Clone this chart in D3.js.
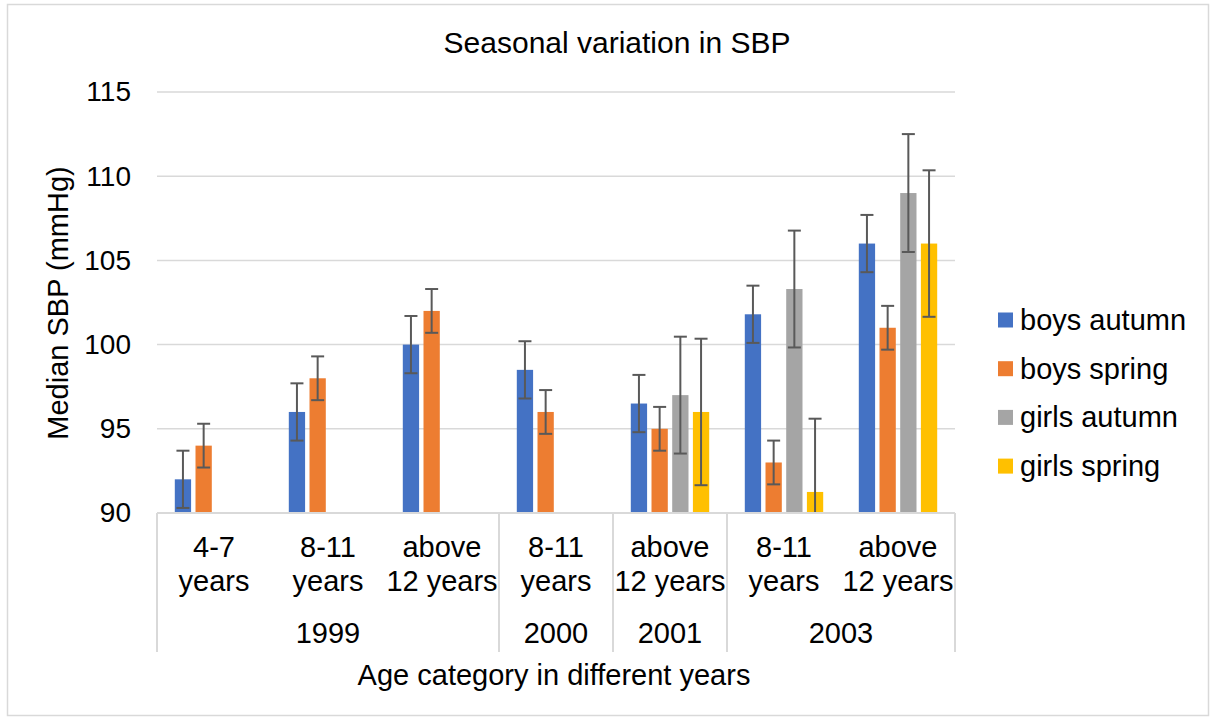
<!DOCTYPE html>
<html>
<head>
<meta charset="utf-8">
<script src="https://cdn.jsdelivr.net/npm/d3@7"></script>
<style>
body { margin: 0; background: #fff; }
text { font-family: "Liberation Sans", Arial, sans-serif; fill: #000; }
</style>
</head>
<body>
<div id="chart"></div>
<script>
// data
var years = ["1999", "1999", "1999", "2000", "2001", "2003", "2003"];
var ageLabels = [["4-7", "years"], ["8-11", "years"], ["above", "12 years"], ["8-11", "years"],
  ["above", "12 years"], ["8-11", "years"], ["above", "12 years"]];
var seriesNames = ["boys autumn", "boys spring", "girls autumn", "girls spring"];
var seriesColors = ["#4472c4", "#ed7d31", "#a5a5a5", "#ffc000"];
var boysAutumn = [92, 96, 100, 98.5, 96.5, 101.8, 106];
var boysSpring = [94, 98, 102, 96, 95, 93, 101];
var girlsAutumn = [null, null, null, null, 97, 103.3, 109];
var girlsSpring = [null, null, null, null, 96, 91.25, 106];
var boysAutumnErr = [1.7, 1.7, 1.7, 1.7, 1.7, 1.7, 1.7];
var boysSpringErr = [1.3, 1.3, 1.3, 1.3, 1.3, 1.3, 1.3];
var girlsAutumnErr = [null, null, null, null, 3.47, 3.47, 3.5];
var girlsSpringErr = [null, null, null, null, 4.35, 4.35, 4.35];
var yTicks = [90, 95, 100, 105, 110, 115];

var values = [boysAutumn, boysSpring, girlsAutumn, girlsSpring];
var errors = [boysAutumnErr, boysSpringErr, girlsAutumnErr, girlsSpringErr];

var W = 1210, H = 718;
var margin = {top: 92, left: 157, right: 255, bottom: 205};
var width = W - margin.left - margin.right,
    height = H - margin.top - margin.bottom;

var svg = d3.select("#chart").append("svg")
  .attr("width", W).attr("height", H);

// outer chart border
svg.append("rect")
  .attr("x", 7.5).attr("y", 4.5)
  .attr("width", W - 9).attr("height", H - 7)
  .attr("fill", "none").attr("stroke", "#d9d9d9").attr("stroke-width", 1.5);

svg.append("text")
  .attr("x", 617).attr("y", 53)
  .attr("text-anchor", "middle")
  .style("font-size", "30px")
  .text("Seasonal variation in SBP");

var g = svg.append("g")
  .attr("transform", "translate(" + margin.left + "," + margin.top + ")");

var idx = d3.range(years.length);
var x = d3.scaleBand().domain(idx).range([0, width]).padding(0);
var xs = d3.scaleBand().domain(d3.range(seriesNames.length))
  .range([17.8, x.bandwidth() - 17.8]).paddingInner(0.213);
var y = d3.scaleLinear().domain([90, 115]).range([height, 0]);

// gridlines
g.selectAll(".grid").data(yTicks.slice(1)).enter().append("line")
  .attr("x1", 0).attr("x2", width)
  .attr("y1", function(d) { return y(d); }).attr("y2", function(d) { return y(d); })
  .attr("stroke", "#d9d9d9").attr("stroke-width", 1.5);

// y axis labels
var yAxis = g.append("g").call(d3.axisLeft(y).tickValues(yTicks).tickSize(0).tickPadding(26));
yAxis.select(".domain").remove();
yAxis.selectAll("text").style("font-size", "28px").attr("fill", "#000");

g.append("text")
  .attr("transform", "rotate(-90)")
  .attr("x", -(303 - margin.top)).attr("y", 68 - margin.left)
  .attr("text-anchor", "middle")
  .style("font-size", "29px")
  .text("Median SBP (mmHg)");

svg.append("clipPath").attr("id", "plotclip")
  .append("rect").attr("x", 0).attr("y", -20).attr("width", width).attr("height", height + 20);

var plot = g.append("g").attr("clip-path", "url(#plotclip)");

values.forEach(function(vals, s) {
  var data = idx.filter(function(i) { return vals[i] != null; });
  plot.selectAll(".bar" + s).data(data).enter().append("rect")
    .attr("x", function(i) { return x(i) + xs(s); })
    .attr("width", xs.bandwidth())
    .attr("y", function(i) { return y(vals[i]); })
    .attr("height", function(i) { return height - y(vals[i]); })
    .attr("fill", seriesColors[s]);
});

// error bars
values.forEach(function(vals, s) {
  var data = idx.filter(function(i) { return vals[i] != null; });
  var cx = function(i) { return x(i) + xs(s) + xs.bandwidth() / 2; };
  var eb = plot.selectAll(".err" + s).data(data).enter().append("g")
    .attr("stroke", "#595959").attr("stroke-width", 2);
  eb.append("line")
    .attr("x1", cx).attr("x2", cx)
    .attr("y1", function(i) { return y(vals[i] + errors[s][i]); })
    .attr("y2", function(i) { return y(vals[i] - errors[s][i]); });
  [1, -1].forEach(function(sign) {
    eb.append("line")
      .attr("x1", function(i) { return cx(i) - 6.5; })
      .attr("x2", function(i) { return cx(i) + 6.5; })
      .attr("y1", function(i) { return y(vals[i] + sign * errors[s][i]); })
      .attr("y2", function(i) { return y(vals[i] + sign * errors[s][i]); });
  });
});

// category axis
g.append("line").attr("x1", 0).attr("x2", width).attr("y1", height).attr("y2", height)
  .attr("stroke", "#d9d9d9").attr("stroke-width", 2);

var groups = [];
idx.forEach(function(i) {
  if (!groups.length || groups[groups.length - 1].year !== years[i]) groups.push({year: years[i], start: i, end: i});
  else groups[groups.length - 1].end = i;
});
var bounds = [0].concat(groups.map(function(gr) { return x(gr.end) + x.bandwidth(); }));
g.selectAll(".sep").data(bounds).enter().append("line")
  .attr("x1", function(d) { return d; }).attr("x2", function(d) { return d; })
  .attr("y1", height).attr("y2", height + 139)
  .attr("stroke", "#d9d9d9").attr("stroke-width", 2);

var cat = g.selectAll(".cat").data(idx).enter().append("text")
  .attr("x", function(i) { return x(i) + x.bandwidth() / 2; })
  .attr("text-anchor", "middle")
  .style("font-size", "29px");
cat.append("tspan").attr("x", function(i) { return x(i) + x.bandwidth() / 2; })
  .attr("y", height + 44).text(function(i) { return ageLabels[i][0]; });
cat.append("tspan").attr("x", function(i) { return x(i) + x.bandwidth() / 2; })
  .attr("y", height + 78).text(function(i) { return ageLabels[i][1]; });

g.selectAll(".yr").data(groups).enter().append("text")
  .attr("x", function(gr) { return (x(gr.start) + x(gr.end) + x.bandwidth()) / 2; })
  .attr("y", height + 130)
  .attr("text-anchor", "middle")
  .style("font-size", "29px")
  .text(function(gr) { return gr.year; });

svg.append("text")
  .attr("x", 554).attr("y", 685)
  .attr("text-anchor", "middle")
  .style("font-size", "29px")
  .text("Age category in different years");

// legend
var legend = svg.selectAll(".legend").data(seriesNames).enter().append("g")
  .attr("transform", function(d, i) { return "translate(998," + (320 + i * 48.7) + ")"; });
legend.append("rect").attr("x", 0).attr("y", -7.5).attr("width", 15).attr("height", 15)
  .attr("fill", function(d, i) { return seriesColors[i]; });
legend.append("text").attr("x", 22).attr("y", 10)
  .style("font-size", "29px")
  .text(function(d) { return d; });
</script>
</body>
</html>
